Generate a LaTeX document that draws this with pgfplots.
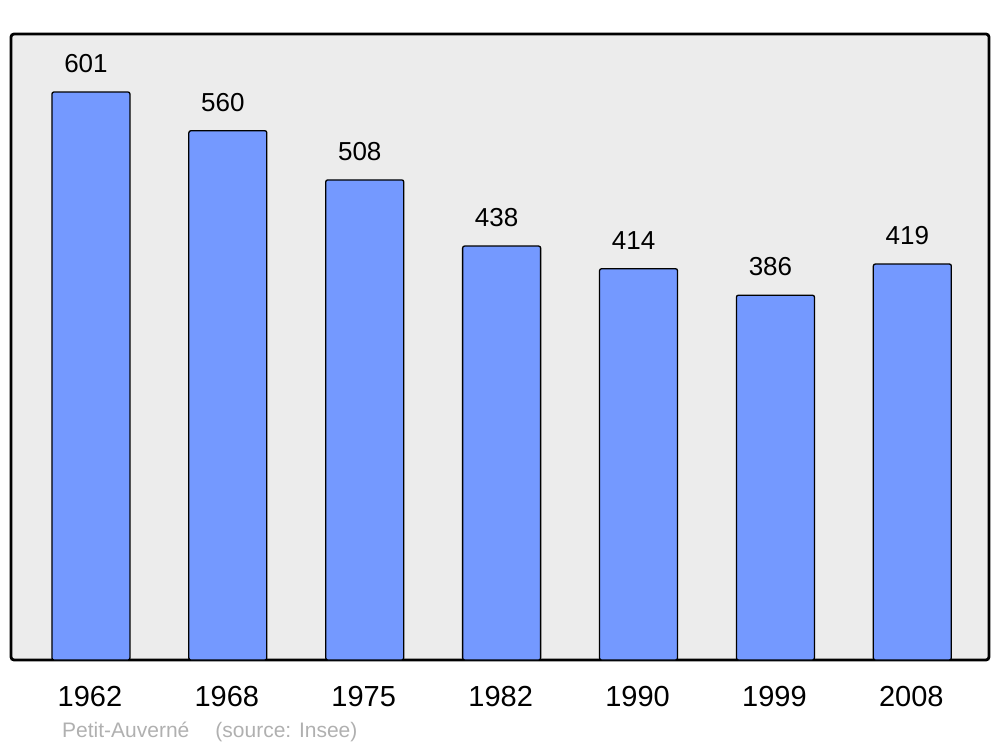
\documentclass[border=0pt]{standalone}
\usepackage{pgfplots}
\pgfplotsset{compat=1.18}
\usepackage{fontspec}
\setmainfont{Liberation Sans}
\definecolor{barfill}{RGB}{116,153,255}
\definecolor{bgray}{RGB}{236,236,236}
\definecolor{srcgray}{RGB}{176,176,176}
\begin{document}
\begin{tikzpicture}[x=1pt,y=1pt]
\useasboundingbox (0,0) rectangle (1000,747);
\begin{axis}[
  at={(11pt,87pt)}, anchor=south west,
  scale only axis, width=978pt, height=626pt,
  xmin=-0.584, xmax=6.56, ymin=0, ymax=662.4,
  axis background/.style={fill=bgray, draw=black, line width=2.8pt, rounded corners=3pt},
  axis line style={draw=none},
  ytick=\empty,
  xtick={0,1,2,3,4,5,6},
  xticklabels={1962,1968,1975,1982,1990,1999,2008},
  major tick length=0pt,
  xticklabel style={anchor=base, xshift=-1pt, yshift=-46pt, font=\fontsize{29}{32}\selectfont},
  /pgf/number format/assume math mode=true,
  ybar, bar width=78pt,
  nodes near coords,
  every node near coord/.append style={anchor=base, xshift=-5pt, yshift=19.5pt, font=\fontsize{26}{29}\selectfont, text=black},
]
\addplot[fill=barfill, draw=black, line width=1.3pt, rounded corners=2pt] coordinates {
(0,601) (1,560) (2,508) (3,438) (4,414) (5,386) (6,419)};
\end{axis}
\node[anchor=base west, text=srcgray, font=\fontsize{21}{24}\selectfont, inner sep=0pt] at (62,10) {Petit-Auverné\hspace{26pt}(source: Insee)};
\end{tikzpicture}
\end{document}
